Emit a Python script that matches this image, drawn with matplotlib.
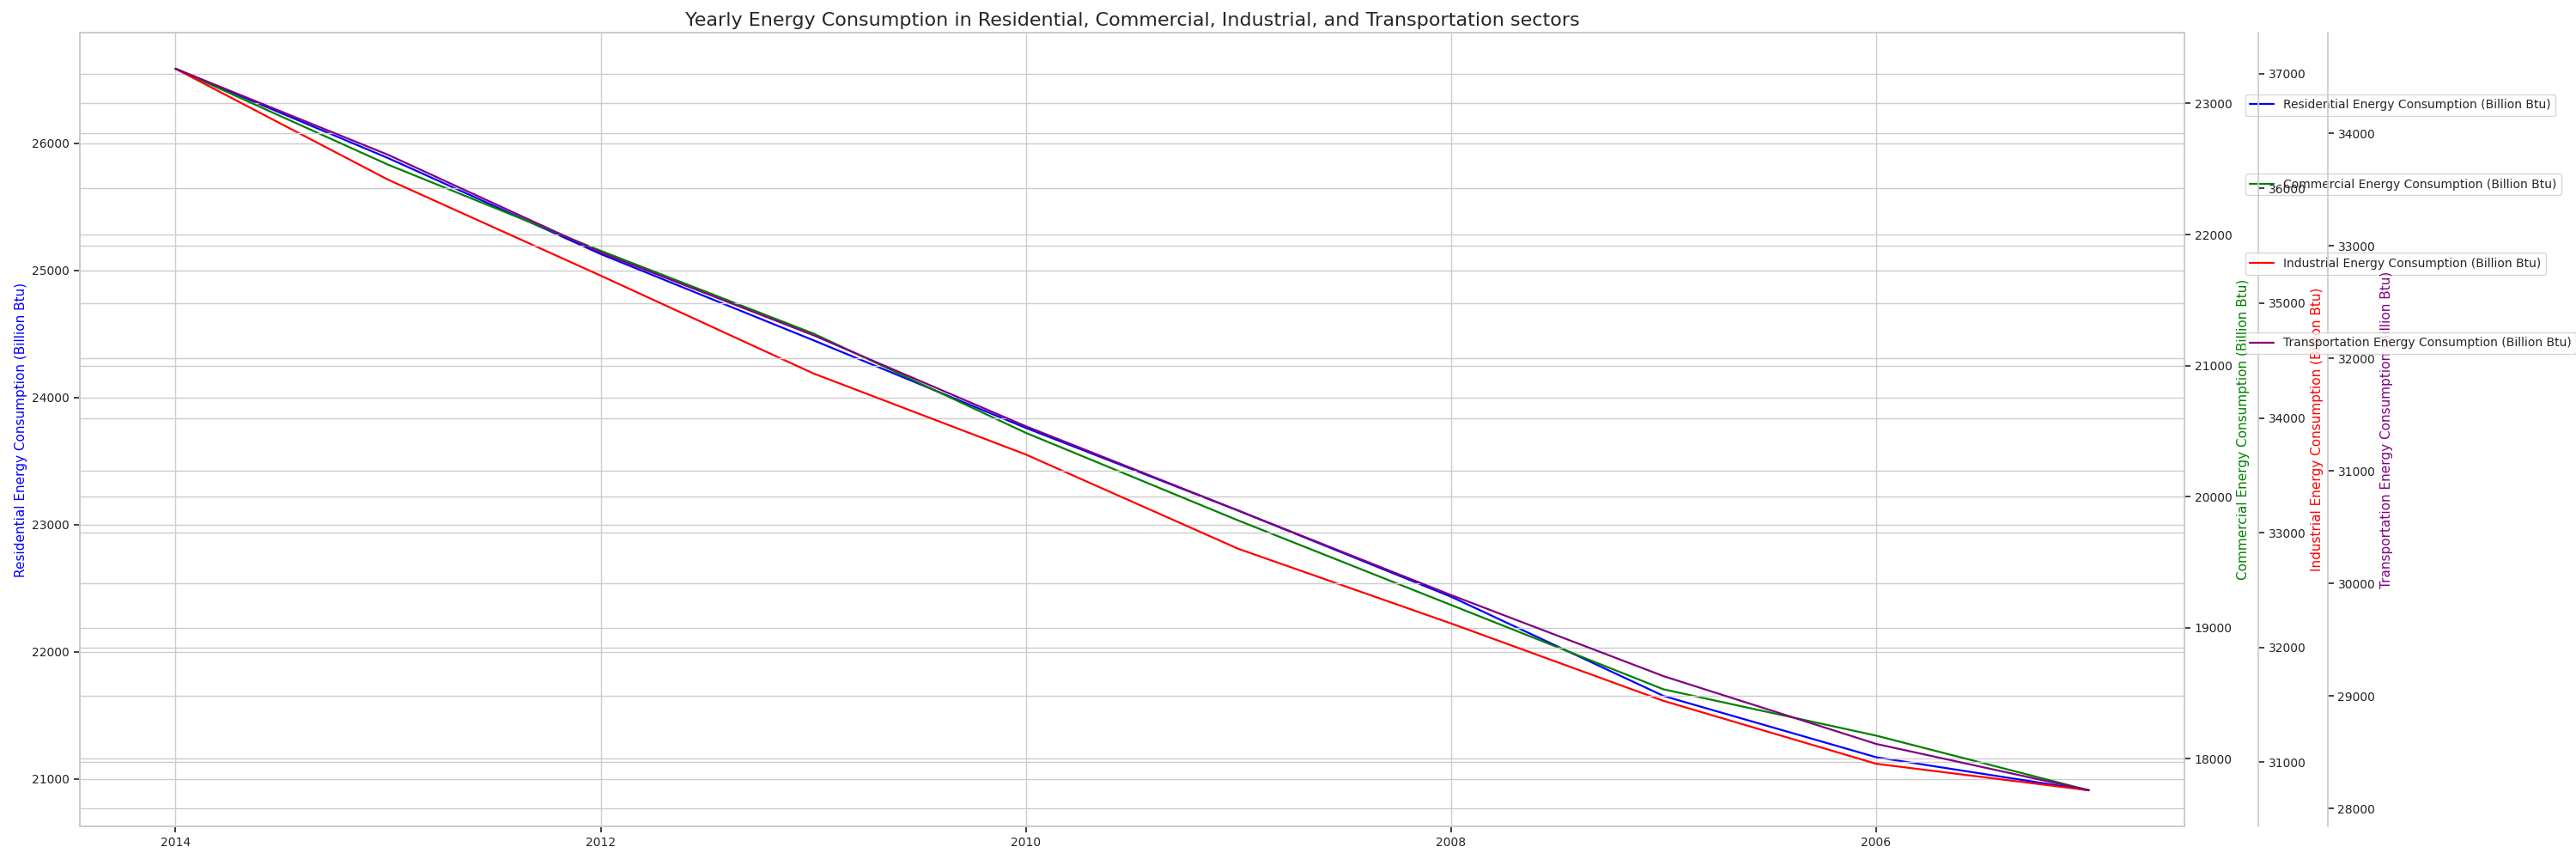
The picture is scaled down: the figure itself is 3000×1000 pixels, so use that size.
import matplotlib
matplotlib.use("Agg")
from matplotlib import pyplot as plt
import seaborn as sns

# ---------------------------
# Datos
# ---------------------------
years = [2014, 2013, 2012, 2011, 2010, 2009, 2008, 2007, 2006, 2005]
residential = [26586, 25883, 25128, 24450, 23760, 23109, 22432, 21651, 21169, 20909]
commercial = [23265, 22533, 21876, 21245, 20487, 19818, 19174, 18530, 18177, 17760]
industrial = [37043, 36076, 35240, 34388, 33681, 32859, 32209, 31534, 30986, 30755]
transportation = [34574, 33809, 32941, 32206, 31397, 30647, 29897, 29176, 28574, 28162]

sns.set_theme(style="whitegrid")
plt.rcParams["xtick.bottom"] = True
plt.rcParams["ytick.left"] = True
plt.rcParams["ytick.right"] = True

fig, ax1 = plt.subplots(figsize=(30, 10), dpi=100)
fig.subplots_adjust(left=0.031, right=0.848, top=0.962, bottom=0.038)

series = [
    (residential, "Residential Energy Consumption (Billion Btu)", "blue"),
    (commercial, "Commercial Energy Consumption (Billion Btu)", "green"),
    (industrial, "Industrial Energy Consumption (Billion Btu)", "red"),
    (transportation, "Transportation Energy Consumption (Billion Btu)", "purple"),
]
offsets = [None, 1.0, 1.035, 1.068]
legend_y = [0.93, 0.83, 0.73, 0.63]

axes = [ax1, ax1.twinx(), ax1.twinx(), ax1.twinx()]
for i, (ax, (vals, label, color)) in enumerate(zip(axes, series)):
    ax.plot(years, vals, color=color, linewidth=1.6, label=label)
    ax.set_ylabel(label, color=color, fontsize=11)
    ax.tick_params(axis="y", labelsize=10, length=5, width=1.2, colors="#222222")
    ax.tick_params(axis="x", labelsize=10, length=5)
    if i > 0:
        ax.spines["right"].set_position(("axes", offsets[i]))
    ax.legend(loc="upper left", bbox_to_anchor=(1.026, legend_y[i]), fontsize=10)
    ax.yaxis.label.set_color(color)

ax1.invert_xaxis()
ax1.set_title("Yearly Energy Consumption in Residential, Commercial, Industrial, and Transportation sectors", fontsize=16)

plt.savefig("out.png")
